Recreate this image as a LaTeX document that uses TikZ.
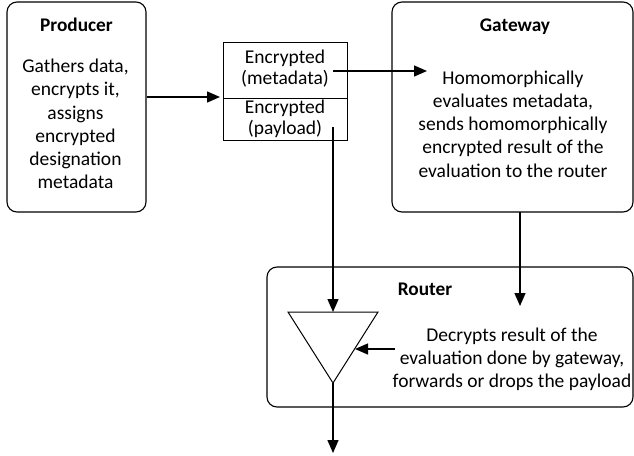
\documentclass[tikz,border=0pt]{standalone}
\usepackage{fontspec}
\setmainfont{Carlito}
\usetikzlibrary{arrows.meta}
\begin{document}
\begin{tikzpicture}[x=1pt,y=-1pt,
  box/.style={draw,line width=1.1pt,rounded corners=10pt,inner sep=0pt},
  cell/.style={draw,line width=1pt,inner sep=0pt},
  txt/.style={align=center,font=\fontsize{19.5}{23.2}\selectfont,inner sep=0pt},
  ptxt/.style={align=center,font=\fontsize{19.5}{21}\selectfont,inner sep=0pt},
  ttl/.style={font=\fontsize{19.3}{22}\selectfont\bfseries,inner sep=0pt},
  arr/.style={line width=1.4pt,-{Triangle[length=13pt,width=11pt]}},
  tri/.style={line width=1pt,line join=miter}]
\useasboundingbox (0,0) rectangle (634,455);

% boxes
\node[box,minimum width=139pt,minimum height=210pt] (prod) at (76.5,107) {};
\node[box,minimum width=241pt,minimum height=210pt] (gw) at (512.5,107) {};
\node[box,minimum width=366pt,minimum height=140pt] (rt) at (450,337) {};
\node[cell,minimum width=124pt,minimum height=56pt] (meta) at (285,70) {};
\node[cell,minimum width=124pt,minimum height=42pt] (pay) at (285,119) {};

% texts
\node[ttl] (prodt) at (76.5,25) {Producer};
\node[txt] (prodb) at (75.5,124) {Gathers data,\\encrypts it,\\assigns\\encrypted\\designation\\metadata};
\node[ptxt] (metat) at (285,69) {Encrypted\\(metadata)};
\node[ptxt] (payt) at (285,119) {Encrypted\\(payload)};
\node[ttl] (gwt) at (515,27) {Gateway};
\node[txt] (gwb) at (513,124) {Homomorphically\\evaluates metadata,\\sends homomorphically\\encrypted result of the\\evaluation to the router};
\node[ttl] (rtt) at (425,289) {Router};
\node[txt] (rtb) at (512,359) {Decrypts result of the\\evaluation done by gateway,\\forwards or drops the payload};

% triangle
\coordinate (ta) at (288,312);
\coordinate (tb) at (378,312);
\coordinate (tc) at (333,383);
\draw[tri] (ta) -- (tb) -- (tc) -- cycle;
\coordinate (ttop) at (333,312);
\coordinate (tside) at (355,349);

% connector end points
\coordinate (pin) at (220,97);
\coordinate (ms) at (333,71);
\coordinate (me) at (427,71);
\coordinate (ps) at (333,127);
\coordinate (gs) at (520,212);
\coordinate (ge) at (520,306);
\coordinate (rs) at (395,349);
\coordinate (oute) at (333,453);

% connectors
\draw[arr] (prod.east |- pin) -- (pin);
\draw[arr] (ms) -- (me);
\draw[arr] (ps) -- (ttop);
\draw[arr] (gs) -- (ge);
\draw[arr] (rs) -- (tside);
\draw[arr] (tc) -- (oute);
\end{tikzpicture}
\end{document}
